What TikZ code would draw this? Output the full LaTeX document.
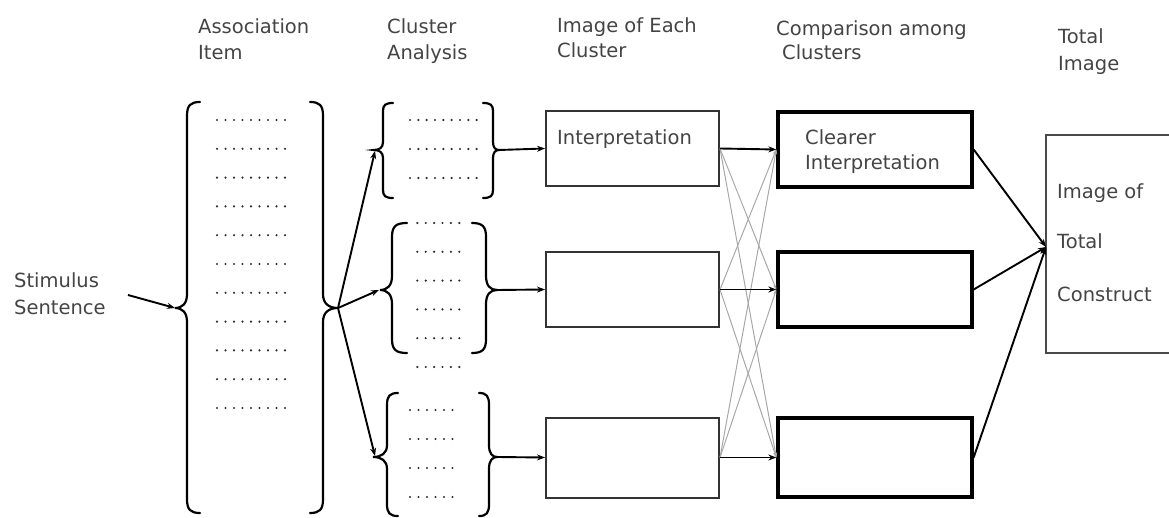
\documentclass[tikz,border=0pt]{standalone}
\usepackage{fontspec}
\setmainfont{DejaVu Sans}
\usetikzlibrary{arrows.meta}
\definecolor{txt}{HTML}{444444}
\definecolor{dotc}{HTML}{2E2E2E}
\definecolor{crossc}{HTML}{A8A8A8}
\definecolor{boxc}{HTML}{333333}
\definecolor{totc}{HTML}{4A4A4A}

% curly brace: #1 stem x, #2 top y, #3 cusp y, #4 bottom y,
% #5 side (1 = opens right, -1 = opens left), #6 hook length, #7 cusp reach, #8 corner radius
\newcommand\drawbrace[8]{%
  \draw[brace] ({#1+(#5)*(#6)},#2)
    .. controls ({#1+(#5)*(#6)*0.25},#2) and (#1,{#2+(#8)*0.25}) .. (#1,{#2+#8})
    -- (#1,{#3-(#8)})
    .. controls (#1,{#3-(#8)*0.3}) and ({#1-(#5)*(#7)*0.4},#3) .. ({#1-(#5)*(#7)},#3)
    .. controls ({#1-(#5)*(#7)*0.4},#3) and (#1,{#3+(#8)*0.3}) .. (#1,{#3+#8})
    -- (#1,{#4-(#8)})
    .. controls (#1,{#4-(#8)*0.25}) and ({#1+(#5)*(#6)*0.25},#4) .. ({#1+(#5)*(#6)},#4);}

\begin{document}
\begin{tikzpicture}[x=1pt,y=-1pt,
  lbl/.style={font=\fontsize{19.5}{26}\selectfont, text=txt, inner sep=0pt, anchor=base west},
  brace/.style={draw=black, line width=2.2pt, line cap=round},
  link/.style={draw=black, line width=1.9pt, -{Stealth[length=8pt,width=6pt]}},
  cross/.style={draw=crossc, line width=1pt, -{Stealth[length=5pt,width=3.5pt]}},
  clubox/.style={draw=boxc, line width=2pt, minimum width=173pt, minimum height=75pt, inner sep=0pt},
  cmpbox/.style={draw=black, line width=3.3pt, minimum width=194pt, minimum height=75pt, inner sep=0pt},
  totbox/.style={draw=totc, line width=1.7pt, minimum width=134pt, minimum height=218pt, inner sep=0pt},
  dot/.style={fill=dotc}]
\useasboundingbox (0,0) rectangle (1169,518);
\clip (0,0) rectangle (1169,518);

% column headings
\node[lbl] (hA1) at (198,34) {Association};
\node[lbl] (hA2) at (198,60) {Item};
\node[lbl] (hB1) at (387,34) {Cluster};
\node[lbl] (hB2) at (387,60) {Analysis};
\node[lbl] (hC1) at (557,33) {Image of Each};
\node[lbl] (hC2) at (557,58) {Cluster};
\node[lbl] (hD1) at (776,36) {Comparison among};
\node[lbl] (hD2) at (782,60) {Clusters};
\node[lbl] (hE1) at (1058,44) {Total};
\node[lbl] (hE2) at (1058,71) {Image};

% stimulus
\node[lbl] (st1) at (14,288) {Stimulus};
\node[lbl] (st2) at (14,315) {Sentence};
\coordinate (stTail) at (128,295);

% association items
\drawbrace{187}{102}{308}{513}{1}{13}{12}{14}
\drawbrace{323}{102}{308}{513}{-1}{13}{15}{14}
\coordinate (aL) at (175,308);
\coordinate (aR) at (338,308);
\foreach \r in {0,...,10}
  \foreach \c in {0,...,8}
    \fill[dot] ({217+\c*8.5},{120+\r*28.8}) circle (1.2);

% cluster 1
\drawbrace{383}{103}{150}{198}{1}{10}{9}{8}
\drawbrace{493}{103}{150}{198}{-1}{10}{6}{8}
\coordinate (c1L) at (375,151);
\coordinate (c1R) at (499,150);
\foreach \r in {0,1,2}
  \foreach \c in {0,...,8}
    \fill[dot] ({410+\c*8.33},{120+\r*29}) circle (1.2);

% cluster 2
\drawbrace{392}{223}{290}{353}{1}{15}{12}{14}
\drawbrace{486}{223}{290}{353}{-1}{14}{11}{14}
\coordinate (c2L) at (379,290);
\coordinate (c2R) at (497,290);
\foreach \r in {0,...,5}
  \foreach \c in {0,...,5}
    \fill[dot] ({417.3+\c*8.4},{223+\r*28.8}) circle (1.2);

% cluster 3
\drawbrace{387}{393}{457}{516}{1}{11}{14}{12}
\drawbrace{489}{393}{457}{516}{-1}{10}{8}{12}
\coordinate (c3L) at (375,456);
\coordinate (c3R) at (497,457);
\foreach \r in {0,...,3}
  \foreach \c in {0,...,5}
    \fill[dot] ({410+\c*8.5},{410+\r*29}) circle (1.2);

% images of each cluster
\node[clubox] (b1) at (632.5,148.5) {};
\node[clubox] (b2) at (632.5,289.5) {};
\node[clubox, minimum height=80pt] (b3) at (632.5,457.5) {};
\node[lbl] (b1t) at (557,145) {Interpretation};

% comparison among clusters
\node[cmpbox] (k1) at (875,149.5) {};
\node[cmpbox] (k2) at (875,289.5) {};
\node[cmpbox, minimum height=79pt] (k3) at (875,457.5) {};
\node[lbl] (k1a) at (805,145) {Clearer};
\node[lbl] (k1b) at (805,170) {Interpretation};

% total image
\node[totbox] (tot) at (1113,244) {};
\coordinate (tIn) at (1046,247);
\node[lbl] (t1) at (1057,199) {Image of};
\node[lbl] (t2) at (1057,249) {Total};
\node[lbl] (t3) at (1057,302) {Construct};

% connectors
\draw[link] (stTail) -- (aL);
\draw[link] (aR) -- (c1L);
\draw[link] (aR) -- (c2L);
\draw[link] (aR) -- (c3L);
\draw[link] (c1R) -- (b1.west);
\draw[link] (c2R) -- (b2.west);
\draw[link] (c3R) -- (b3.west);

\draw[cross] (b1.east) -- (k2.west);
\draw[cross] (b1.east) -- (k3.west);
\draw[cross] (b2.east) -- (k1.west);
\draw[cross] (b2.east) -- (k3.west);
\draw[cross] (b3.east) -- (k1.west);
\draw[cross] (b3.east) -- (k2.west);

\draw[link] (b1.east) -- (k1.west);
\draw[link] (b2.east) -- (k2.west);
\draw[link] (b3.east) -- (k3.west);

\draw[link] (k1.east) -- (tIn);
\draw[link] (k2.east) -- (tIn);
\draw[link] (k3.east) -- (tIn);
\end{tikzpicture}
\end{document}
